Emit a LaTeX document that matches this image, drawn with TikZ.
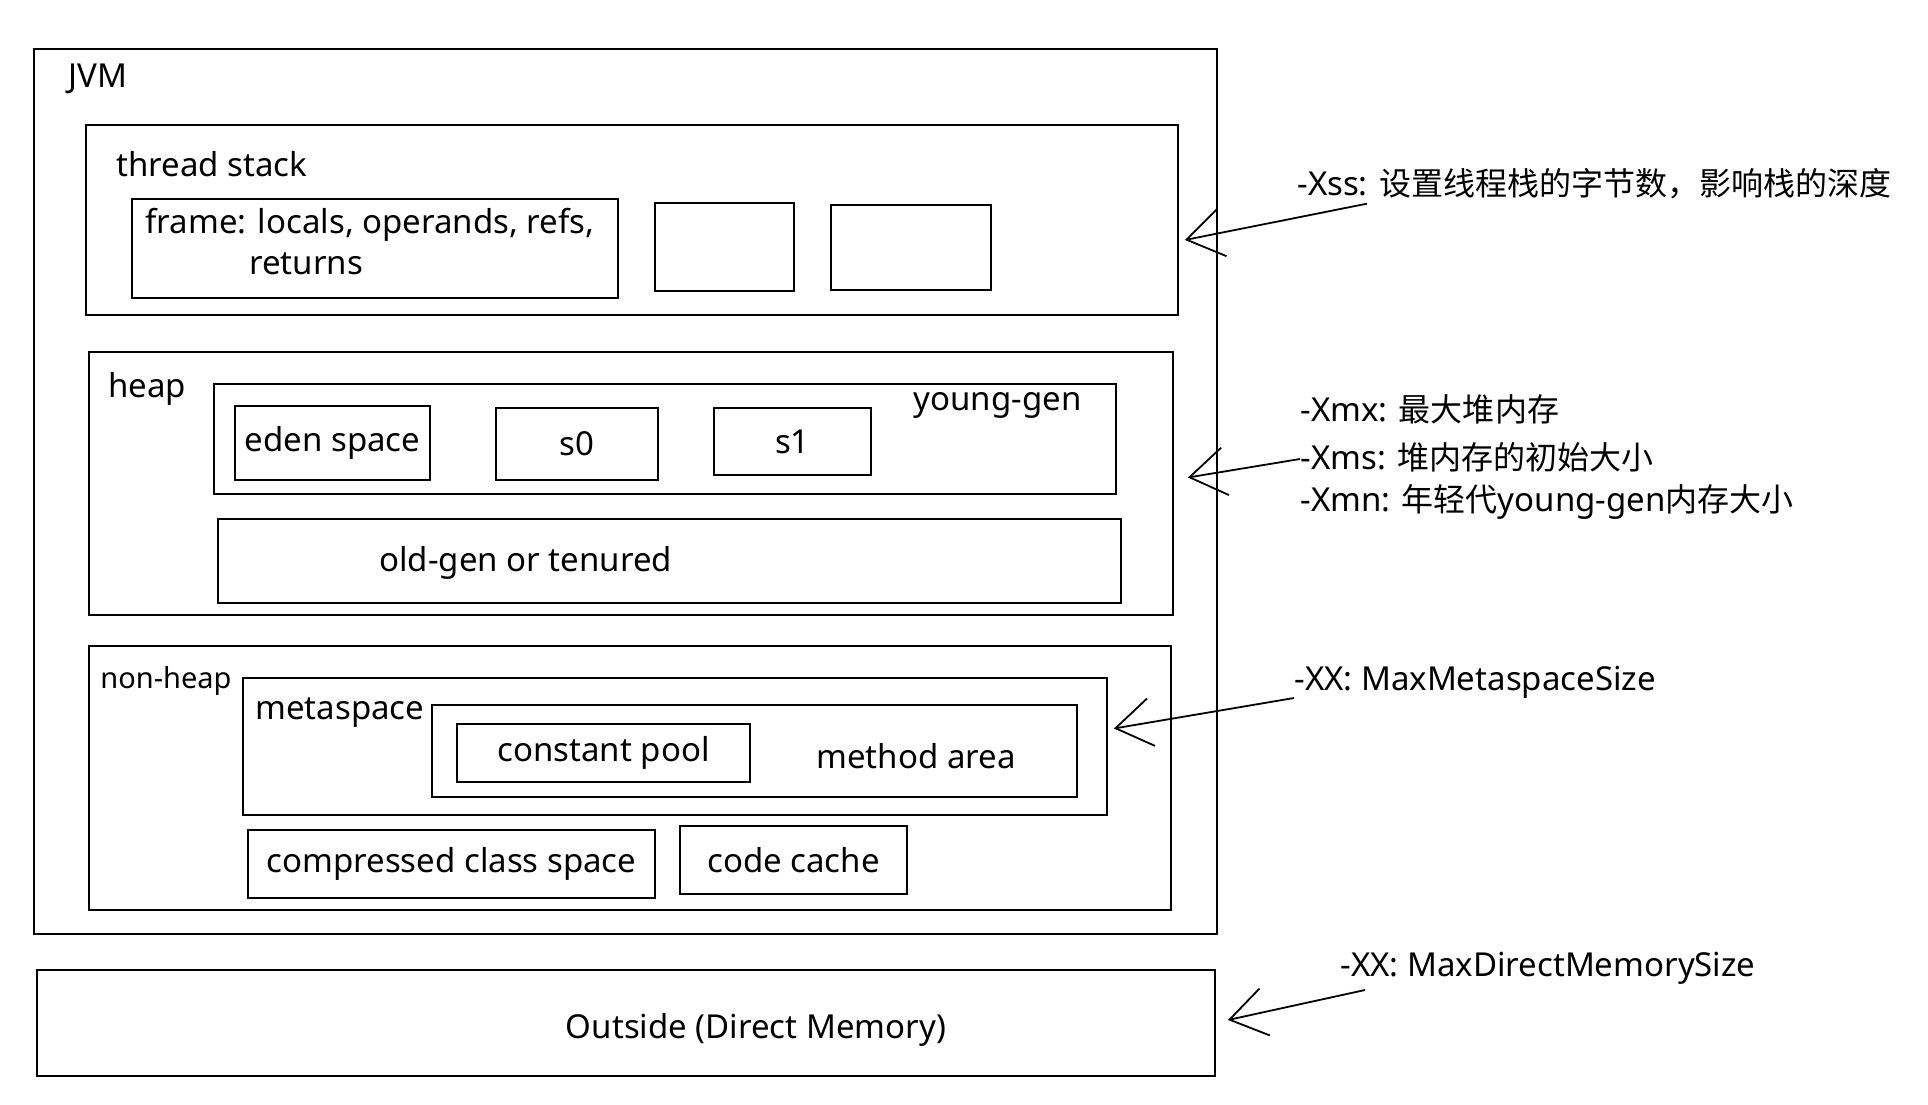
\documentclass[tikz,border=0pt]{standalone}
\usepackage{fontspec}
\setmainfont{Noto Sans}
\newfontfamily\cjk[Scale=0.97]{Noto Sans CJK SC}
\usetikzlibrary{fit,arrows.meta,positioning}
\tikzset{
  region/.style={draw, line width=0.9pt, inner sep=0pt},
  tag/.style={font=\fontsize{16.5}{20.5}\selectfont, inner sep=0pt},
  flag/.style={tag, anchor=west},
  hint/.style={line width=0.9pt, -{Straight Barb[length=18pt,width=24pt]}},
}
\begin{document}
\begin{tikzpicture}[x=0.5pt, y=-0.5pt]
\useasboundingbox (0,0) rectangle (1928,1104);
% JVM
\node[region, line width=0.7pt, fit={(34,49) (1217,934)}] (jvm) {};
\node[flag] (jvmlbl) at (68,79) {JVM};
% thread stack
\node[region, fit={(86,125) (1178,315)}] (stack) {};
\node[flag] (stacklbl) at (116,164) {thread stack};
\node[region, fit={(132,199) (618,298)}] (frame) {};
\node[flag, align=left] (framelbl) at (145,242) {frame: locals, operands, refs,\\\hspace*{52pt}returns};
\node[region, fit={(655,203) (794,291)}] (frame2) {};
\node[region, fit={(831,205) (991,290)}] (frame3) {};
% heap
\node[region, fit={(89,352) (1173,615)}] (heap) {};
\node[flag] (heaplbl) at (108,389) {heap};
\node[region, fit={(214,384) (1116,494)}] (young) {};
\node[tag, anchor=east] (younglbl) at (1082,405) {young-gen};
\node[region, fit={(235,406) (430,480)}] (eden) {};
\node[tag] (edenlbl) at (eden.center) {eden space};
\node[region, fit={(496,408) (658,480)}] (szero) {};
\node[tag] (szerolbl) at (szero.center) {s0};
\node[region, fit={(714,408) (871,475)}] (sone) {};
\node[tag] (sonelbl) at (sone.center) {s1};
\node[region, fit={(218,519) (1121,603)}] (old) {};
\node[flag] (oldlbl) at (379,563) {old-gen or tenured};
% non-heap
\node[region, fit={(89,646) (1171,910)}] (nonheap) {};
\node[flag, font=\fontsize{14.5}{18}\selectfont] (nonheaplbl) at (100,681) {non-heap};
\node[region, fit={(243,678) (1107,815)}] (meta) {};
\node[flag] (metalbl) at (255,713) {metaspace};
\node[region, fit={(432,705) (1077,797)}] (method) {};
\node[tag] (methodlbl) at (916,756) {method area};
\node[region, fit={(457,724) (750,782)}] (pool) {};
\node[tag] (poollbl) at (pool.center) {constant pool};
\node[region, fit={(248,830) (655,898)}] (ccs) {};
\node[tag] (ccslbl) at (ccs.center) {compressed class space};
\node[region, fit={(680,826) (907,894)}] (cache) {};
\node[tag] (cachelbl) at (cache.center) {code cache};
% outside
\node[region, fit={(37,970) (1215,1076)}] (outside) {};
\node[tag] (outsidelbl) at (756,1030) {Outside (Direct Memory)};
% options
\node[flag] (xss) at (1297,184) {-Xss: {\cjk 设置线程栈的字节数，影响栈的深度}};
\node[flag] (xmx) at (1300,409) {-Xmx: {\cjk 最大堆内存}};
\node[flag] (xms) at (1300,457) {-Xms: {\cjk 堆内存的初始大小}};
\node[flag] (xmn) at (1300,502) {-Xmn: {\cjk 年轻代}young-gen{\cjk 内存大小}};
\node[flag] (maxmeta) at (1294,682) {-XX: MaxMetaspaceSize};
\node[flag] (maxdirect) at (1340,968) {-XX: MaxDirectMemorySize};
\draw[hint] ([shift={(70,4)}]xss.south west) -- ([shift={(6,20)}]stack.east);
\draw[hint] ([shift={(0,2)}]xms.west) -- ([shift={(14,-6)}]heap.east);
\draw[hint] ([shift={(0,16)}]maxmeta.west) -- ([shift={(6,-18)}]meta.east);
\draw[hint] ([shift={(25,22)}]maxdirect.west) -- ([shift={(12,-3)}]outside.east);
\end{tikzpicture}
\end{document}
